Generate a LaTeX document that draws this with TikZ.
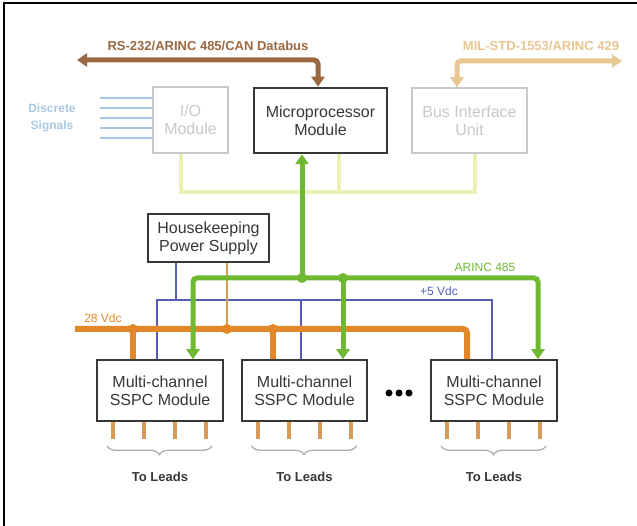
\documentclass[tikz,border=0pt]{standalone}
\usepackage{fontspec}
\setmainfont{Liberation Sans}
\usetikzlibrary{arrows.meta,decorations.pathreplacing}
\definecolor{brownbus}{RGB}{155,105,65}
\definecolor{tanbus}{RGB}{232,198,145}
\definecolor{palebus}{RGB}{236,240,178}
\definecolor{greenbus}{RGB}{112,184,50}
\definecolor{bluebus}{RGB}{85,95,185}
\definecolor{orangebus}{RGB}{226,136,40}
\definecolor{leadcol}{RGB}{214,156,88}
\definecolor{signalcol}{RGB}{170,200,225}
\definecolor{boxtext}{RGB}{55,55,55}
\definecolor{fadegray}{RGB}{200,200,200}
\definecolor{bracegray}{RGB}{170,170,170}
\tikzset{
    module/.style={draw=boxtext,line width=1.5pt,text=boxtext,align=center,inner sep=0pt,
        font=\fontsize{16}{18}\selectfont},
    fadedmodule/.style={module,draw=fadegray,text=fadegray},
    bus/.style={line width=5pt,rounded corners=4pt},
    tip/.style={-{Triangle[width=13pt,length=10pt]}},
    twotips/.style={{Triangle[width=13pt,length=10pt]}-{Triangle[width=13pt,length=10pt]}},
    buslabel/.style={font=\fontsize{13}{15}\selectfont\bfseries},
    smalllabel/.style={font=\fontsize{12}{14}\selectfont},
    lead/.style={leadcol,line width=4pt},
}
\begin{document}
\begin{tikzpicture}[x=1pt,y=-1pt]
        \useasboundingbox (0,0) rectangle (637,526);
        \draw [line width=1.2pt] (4,526) -- (4,3) -- (637,3);
        \node [fadedmodule,minimum width=75pt,minimum height=66pt] (io) at (190.5,120) {I/O\\Module};
        \node [module,line width=2.5pt,minimum width=133pt,minimum height=65pt] (mp) at (320.5,120.5) {Microprocessor\\Module};
        \node [fadedmodule,minimum width=115pt,minimum height=65pt] (biu) at (469.5,120.5) {Bus Interface\\Unit};
        \node [module,minimum width=121pt,minimum height=48pt] (hk) at (208.5,238) {Housekeeping\\Power Supply};
        \node [module,minimum width=126pt,minimum height=61pt] (s1) at (160,390.5) {Multi-channel\\SSPC Module};
        \node [module,minimum width=125pt,minimum height=61pt] (s2) at (304.5,390.5) {Multi-channel\\SSPC Module};
        \node [module,minimum width=126pt,minimum height=61pt] (s3) at (494,390.5) {Multi-channel\\SSPC Module};
        \coordinate (dL) at (77,60);
        \coordinate (dR) at (318,60);
        \coordinate (tL) at (457,61);
        \coordinate (tR) at (622,61);
        \draw [bus,brownbus,twotips] (dL) -- (dR) -- (dR |- mp.north);
        \draw [bus,tanbus,twotips] (tL |- biu.north) -- (tL) -- (tR);
        \node [buslabel,text=brownbus] (dbtext) at (208,46) {RS-232/ARINC 485/CAN Databus};
        \node [buslabel,text=tanbus] (miltext) at (541,46) {MIL-STD-1553/ARINC 429};
        \foreach \y in {98,108,118,128,138}
            \draw [signalcol,line width=2pt] (100,\y) -- (io.west |- 0,\y);
        \node [font=\fontsize{12}{17}\selectfont\bfseries,text=signalcol,align=center] (sigtext) at (52,118) {Discrete\\Signals};
        \coordinate (pL) at (181,192);
        \coordinate (pM) at (339,192);
        \coordinate (pR) at (475,192);
        \draw [palebus,line width=4pt] (pL |- io.south) -- (pL) -- (pR) -- (pR |- biu.south);
        \draw [palebus,line width=4pt] (pM) -- (pM |- mp.south);
        \coordinate (bL) at (157,300);
        \coordinate (bH) at (176,300);
        \coordinate (bM) at (301,300);
        \coordinate (bR) at (492,300);
        \draw [bluebus,line width=2pt] (bL |- s1.north) -- (bL) -- (bR) -- (bR |- s3.north);
        \draw [bluebus,line width=2pt] (bH |- hk.south) -- (bH);
        \draw [bluebus,line width=2pt] (bM) -- (bM |- s2.north);
        \coordinate (oL) at (75,329);
        \coordinate (oR) at (467,329);
        \coordinate (o1) at (133,329);
        \coordinate (oH) at (227,329);
        \coordinate (o2) at (273,329);
        \draw [leadcol,line width=2.5pt] (oH |- hk.south) -- (oH);
        \draw [orangebus,line width=6pt,rounded corners=4pt] (oL) -- (oR) -- (oR |- s3.north);
        \draw [orangebus,line width=6pt] (o1) -- (o1 |- s1.north);
        \draw [orangebus,line width=6pt] (o2) -- (o2 |- s2.north);
        \foreach \c in {o1,oH,o2}
            \fill [orangebus] (\c) circle (5pt);
        \coordinate (gL) at (193,278);
        \coordinate (gJ) at (302,278);
        \coordinate (gM) at (343,278);
        \coordinate (gR) at (538,278);
        \draw [bus,greenbus,tip] (gJ) -- (gJ |- mp.south);
        \draw [bus,greenbus,twotips] (gL |- s1.north) -- (gL) -- (gR) -- (gR |- s3.north);
        \draw [bus,greenbus,tip] (gM) -- (gM |- s2.north);
        \foreach \c in {gJ,gM}
            \fill [greenbus] (\c) circle (5pt);
        \node [smalllabel,text=greenbus] (arinc) at (485,267) {ARINC 485};
        \node [smalllabel,text=bluebus] (five) at (439,291) {+5 Vdc};
        \node [smalllabel,text=orangebus] (twentyeight) at (103,318) {28 Vdc};
        \foreach \m in {s1,s2,s3} {
            \foreach \dx in {-47,-16,15,46}
                \draw [lead] ([xshift=\dx pt]\m.south) -- ++(0,17);
            \draw [bracegray,line width=1.2pt,decorate,decoration={brace,mirror,amplitude=9pt}]
                ([xshift=-53pt,yshift=-24pt]\m.south) -- ([xshift=52pt,yshift=-24pt]\m.south);
            \node [buslabel,text=boxtext] (load\m) at ([yshift=-55pt]\m.south) {To Leads};
        }
        \foreach \x in {389,399,409}
            \fill (\x,393) circle (3.5pt);
    \end{tikzpicture}
\end{document}
